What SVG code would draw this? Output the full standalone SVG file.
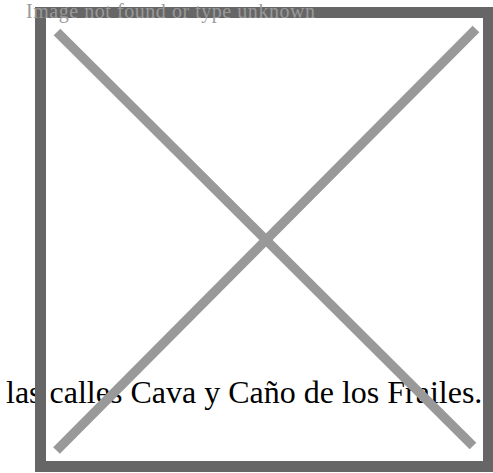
<svg xmlns="http://www.w3.org/2000/svg" width="493" height="473" viewBox="0 0 493 473">
  <style>
    .caption { font-family: "Liberation Serif", "Times New Roman", serif; font-size: 32px; fill: #000000; }
    .alt { font-family: "Liberation Serif", "Times New Roman", serif; font-size: 20px; fill: #999999; }
    .frame { fill: none; stroke: #666666; stroke-width: 11; }
    .cross { stroke: #999999; stroke-width: 9.5; stroke-linecap: butt; }
  </style>
  <rect width="493" height="473" fill="#ffffff"/>
  <text class="caption" x="6" y="403">las calles Cava y Caño de los Frailes.</text>
  <g id="placeholder">
    <rect class="frame" x="40.5" y="12.5" width="448" height="454"/>
    <line class="cross" x1="57" y1="32" x2="473" y2="446"/>
    <line class="cross" x1="476" y1="29" x2="56.5" y2="450.5"/>
    <text class="alt" x="26" y="18" textLength="289" lengthAdjust="spacing">Image not found or type unknown</text>
  </g>
</svg>
